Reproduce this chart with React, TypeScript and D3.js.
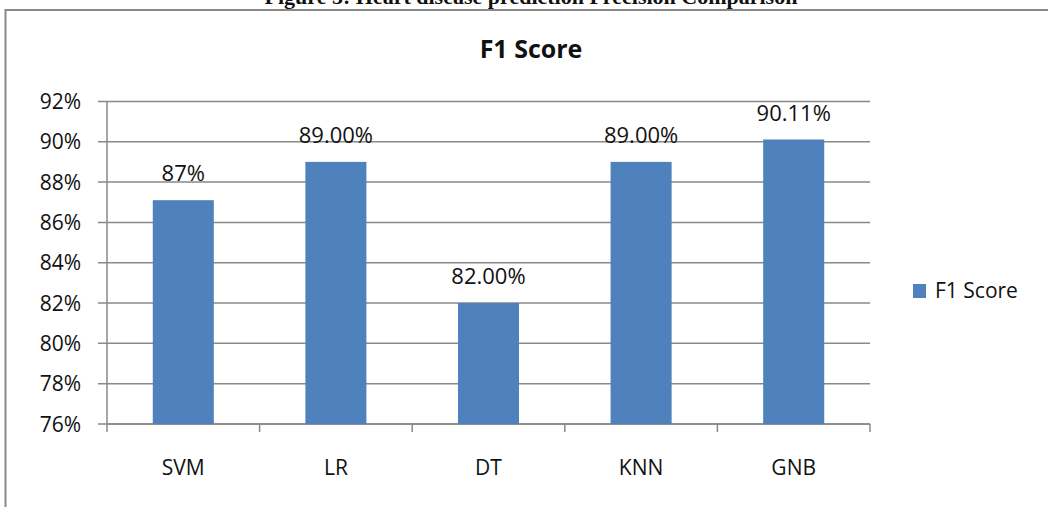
import * as d3 from "d3";

const models = ["SVM", "LR", "DT", "KNN", "GNB"];
const f1Scores = [0.871, 0.89, 0.82, 0.89, 0.9011];
const f1Labels = ["87%", "89.00%", "82.00%", "89.00%", "90.11%"];
const yTickValues = [0.76, 0.78, 0.8, 0.82, 0.84, 0.86, 0.88, 0.9, 0.92];

const width = 1048;
const height = 507;
const plot = { left: 107, right: 870, top: 101.4, bottom: 424 };
const barColor = "#4F81BD";
const gridColor = "#898989";
const font = "'Open Sans', 'Liberation Sans', sans-serif";

export default function App() {
  const x = d3.scaleBand().domain(models).range([plot.left, plot.right]).paddingInner(0).paddingOuter(0);
  const y = d3.scaleLinear().domain([0.76, 0.92]).range([plot.bottom, plot.top]);
  const barW = x.bandwidth() * 0.4;
  const fmt = d3.format(".0%");

  return (
    <svg
      width={width}
      height={height}
      style={{ position: "absolute", left: 0, top: 0, display: "block", background: "#fff" }}
    >
      {/* figure caption, cut off by the crop */}
      <text
        x={531}
        y={4}
        textAnchor="middle"
        fontFamily="'Liberation Serif', 'DejaVu Serif', serif"
        fontWeight={700}
        fontSize={22}
        fill="#111"
      >
        Figure 5: Heart disease prediction Precision Comparison
      </text>

      {/* chart frame */}
      <rect x={5.5} y={10} width={1100} height={600} fill="#fff" stroke={gridColor} strokeWidth={2} />

      <text x={531} y={58} textAnchor="middle" fontFamily={font} fontWeight={700} fontSize={25} fill="#111">
        F1 Score
      </text>

      {/* gridlines + y ticks */}
      {yTickValues.map((t) => (
        <g key={t}>
          <line x1={plot.left - 9} x2={plot.right} y1={y(t)} y2={y(t)} stroke={gridColor} strokeWidth={1.5} />
          <text x={81} y={y(t)} dy="0.36em" textAnchor="end" fontFamily={font} fontSize={21} fill="#111">
            {fmt(t)}
          </text>
        </g>
      ))}

      {/* axes */}
      <line x1={plot.left} x2={plot.left} y1={plot.top} y2={plot.bottom} stroke={gridColor} strokeWidth={1.5} />
      <line x1={plot.left} x2={plot.right} y1={plot.bottom} y2={plot.bottom} stroke={gridColor} strokeWidth={1.5} />
      {models.map((m) => (
        <line key={m} x1={x(m)!} x2={x(m)!} y1={plot.bottom} y2={plot.bottom + 8} stroke={gridColor} strokeWidth={1.5} />
      ))}
      <line x1={plot.right} x2={plot.right} y1={plot.bottom} y2={plot.bottom + 8} stroke={gridColor} strokeWidth={1.5} />

      {/* bars */}
      {models.map((m, i) => {
        const cx = x(m)! + x.bandwidth() / 2;
        return (
          <g key={m}>
            <rect x={cx - barW / 2} y={y(f1Scores[i])} width={barW} height={plot.bottom - y(f1Scores[i])} fill={barColor} />
            <text x={cx} y={y(f1Scores[i]) - 19} textAnchor="middle" fontFamily={font} fontSize={22} fill="#111">
              {f1Labels[i]}
            </text>
            <text x={cx} y={475} textAnchor="middle" fontFamily={font} fontSize={21} fill="#111">
              {m}
            </text>
          </g>
        );
      })}

      {/* legend */}
      <rect x={913} y={284} width={13} height={14} fill={barColor} />
      <text x={935} y={298} fontFamily={font} fontSize={21} fill="#111">
        F1 Score
      </text>
    </svg>
  );
}
